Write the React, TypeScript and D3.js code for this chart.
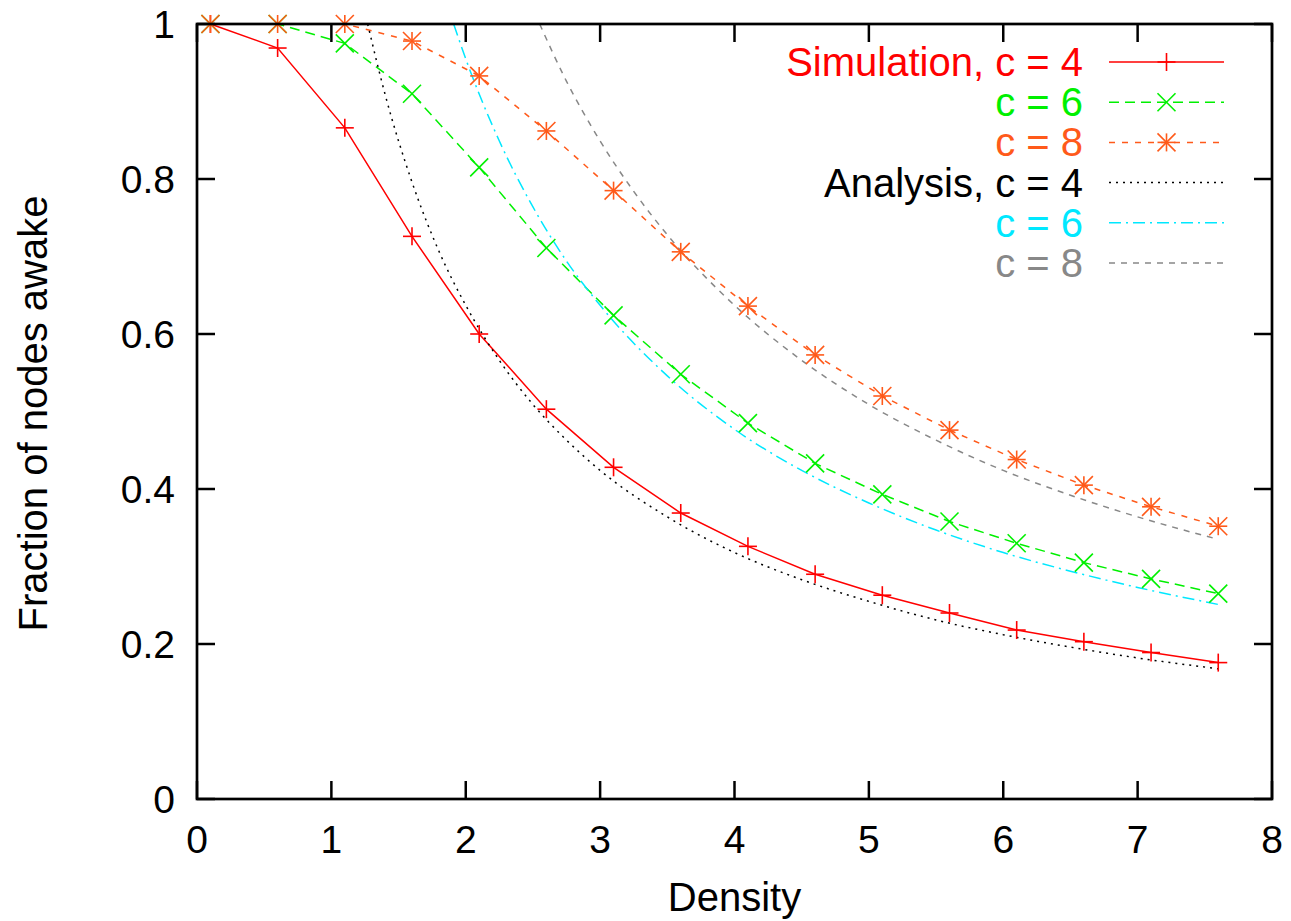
import React from "react";
import * as d3 from "d3";

const xTicks = [0, 1, 2, 3, 4, 5, 6, 7, 8];
const yTicks = [0, 0.2, 0.4, 0.6, 0.8, 1];
const yTickLabels = ["0", "0.2", "0.4", "0.6", "0.8", "1"];

const simDensity = [0.1, 0.6, 1.1, 1.6, 2.1, 2.6, 3.1, 3.6, 4.1, 4.6, 5.1, 5.6, 6.1, 6.6, 7.1, 7.6];
const simC4 = [1.0, 0.969, 0.866, 0.726, 0.6, 0.503, 0.428, 0.369, 0.326, 0.29, 0.263, 0.24, 0.218, 0.203, 0.189, 0.176];
const simC6 = [1.0, 1.0, 0.975, 0.91, 0.815, 0.711, 0.624, 0.548, 0.485, 0.433, 0.393, 0.358, 0.33, 0.305, 0.284, 0.265];
const simC8 = [1.0, 1.0, 1.0, 0.978, 0.933, 0.862, 0.785, 0.706, 0.636, 0.573, 0.52, 0.476, 0.438, 0.405, 0.377, 0.352];

const anaC4x = [1.27, 1.4, 1.6, 1.8, 2.0, 2.25, 2.5, 2.75, 3.0, 3.5, 4.0, 4.5, 5.0, 5.5, 6.0, 6.5, 7.0, 7.6];
const anaC4y = [1.0, 0.909, 0.796, 0.707, 0.637, 0.566, 0.509, 0.463, 0.424, 0.364, 0.318, 0.283, 0.255, 0.231, 0.212, 0.196, 0.182, 0.168];
const anaC6x = [1.91, 2.0, 2.25, 2.5, 2.75, 3.0, 3.5, 4.0, 4.5, 5.0, 5.5, 6.0, 6.5, 7.0, 7.6];
const anaC6y = [1.0, 0.955, 0.849, 0.764, 0.694, 0.637, 0.546, 0.477, 0.424, 0.382, 0.347, 0.318, 0.294, 0.273, 0.251];
const anaC8x = [2.55, 2.75, 3.0, 3.25, 3.5, 4.0, 4.5, 5.0, 5.5, 6.0, 6.5, 7.0, 7.6];
const anaC8y = [1.0, 0.926, 0.849, 0.784, 0.728, 0.637, 0.566, 0.509, 0.463, 0.424, 0.392, 0.364, 0.335];

type Marker = "plus" | "cross" | "star" | null;
interface Series {
  label: string;
  color: string;
  dash: string;
  marker: Marker;
  xs: number[];
  ys: number[];
  smooth: boolean;
}

const series: Series[] = [
  { label: "Simulation, c = 4", color: "#ff0000", dash: "", marker: "plus", xs: simDensity, ys: simC4, smooth: false },
  { label: "c = 6", color: "#00f000", dash: "10,6", marker: "cross", xs: simDensity, ys: simC6, smooth: false },
  { label: "c = 8", color: "#ff5a1a", dash: "6,7", marker: "star", xs: simDensity, ys: simC8, smooth: false },
  { label: "Analysis, c = 4", color: "#000000", dash: "2,5", marker: null, xs: anaC4x, ys: anaC4y, smooth: true },
  { label: "c = 6", color: "#00e8ff", dash: "12,5,2,5", marker: null, xs: anaC6x, ys: anaC6y, smooth: true },
  { label: "c = 8", color: "#888888", dash: "6,6", marker: null, xs: anaC8x, ys: anaC8y, smooth: true },
];

const FONT = "'Liberation Sans', Arial, Helvetica, sans-serif";

function MarkerShape({ type, x, y, color }: { type: Marker; x: number; y: number; color: string }) {
  const s = 9;
  const d = 9;
  const parts: React.ReactNode[] = [];
  if (type === "plus" || type === "star") {
    parts.push(<line key="h" x1={x - s} y1={y} x2={x + s} y2={y} />);
    parts.push(<line key="v" x1={x} y1={y - s} x2={x} y2={y + s} />);
  }
  if (type === "cross" || type === "star") {
    parts.push(<line key="a" x1={x - d} y1={y - d} x2={x + d} y2={y + d} />);
    parts.push(<line key="b" x1={x - d} y1={y + d} x2={x + d} y2={y - d} />);
  }
  return (
    <g stroke={color} strokeWidth={1.6} fill="none">
      {parts}
    </g>
  );
}

export default function App() {
  const W = 1291;
  const H = 921;
  const x = d3.scaleLinear().domain([0, 8]).range([197, 1272]);
  const y = d3.scaleLinear().domain([0, 1]).range([799, 24]);
  const tickLen = 18;
  const FS = 39;
  const FS2 = 40;

  const legX = 1083;
  const legLine0 = 1109;
  const legLine1 = 1224;
  const legY0 = 62;
  const legDy = 40.2;

  return (
    <svg width={W} height={H} style={{ position: "absolute", left: 0, top: 0, background: "#fff" }} fontFamily={FONT}>
      <rect x={0} y={0} width={W} height={H} fill="#fff" />
      <defs>
        <clipPath id="plotClip">
          <rect x={x(0)} y={y(1) - 12} width={x(8) - x(0)} height={y(0) - y(1) + 12} />
        </clipPath>
      </defs>

      {/* ticks */}
      <g stroke="#000" strokeWidth={2.5}>
        {xTicks.map((t) => (
          <g key={"xt" + t}>
            <line x1={x(t)} y1={y(0)} x2={x(t)} y2={y(0) - tickLen} />
            <line x1={x(t)} y1={y(1)} x2={x(t)} y2={y(1) + tickLen} />
          </g>
        ))}
        {yTicks.map((t) => (
          <g key={"yt" + t}>
            <line x1={x(0)} y1={y(t)} x2={x(0) + tickLen} y2={y(t)} />
            <line x1={x(8)} y1={y(t)} x2={x(8) - tickLen} y2={y(t)} />
          </g>
        ))}
      </g>

      {/* tick labels */}
      <g fontSize={FS} fill="#000">
        {xTicks.map((t) => (
          <text key={"xl" + t} x={x(t)} y={853} textAnchor="middle">
            {String(t)}
          </text>
        ))}
        {yTicks.map((t, i) => (
          <text key={"yl" + t} x={175} y={y(t) + 14} textAnchor="end">
            {yTickLabels[i]}
          </text>
        ))}
      </g>

      {/* axis titles */}
      <text x={x(4)} y={911} textAnchor="middle" fontSize={FS2} fill="#000">
        Density
      </text>
      <text
        transform={`translate(47, ${(y(0) + y(1)) / 2 + 2}) rotate(-90)`}
        textAnchor="middle"
        fontSize={FS2}
        fill="#000"
      >
        Fraction of nodes awake
      </text>

      {/* series */}
      <g clipPath="url(#plotClip)">
        {series.map((s, i) => {
          const pts: [number, number][] = s.xs.map((v, j) => [v, s.ys[j]]);
          const gen = d3
            .line<[number, number]>()
            .x((p) => x(p[0]))
            .y((p) => y(p[1]))
            .curve(s.smooth ? d3.curveMonotoneX : d3.curveLinear);
          return (
            <path
              key={"s" + i}
              d={gen(pts) || ""}
              fill="none"
              stroke={s.color}
              strokeWidth={1.5}
              strokeDasharray={s.dash || undefined}
            />
          );
        })}
      </g>
      {series.map((s, i) =>
        s.marker
          ? s.xs.map((v, j) => <MarkerShape key={`m${i}-${j}`} type={s.marker} x={x(v)} y={y(s.ys[j])} color={s.color} />)
          : null
      )}

      {/* frame */}
      <rect x={x(0)} y={y(1)} width={x(8) - x(0)} height={y(0) - y(1)} fill="none" stroke="#000" strokeWidth={2.7} />

      {/* legend */}
      <g fontSize={FS2}>
        {series.map((s, i) => {
          const ly = legY0 + i * legDy;
          return (
            <g key={"lg" + i}>
              <text x={legX} y={ly + 14} textAnchor="end" fill={s.color}>
                {s.label}
              </text>
              <line
                x1={legLine0}
                y1={ly}
                x2={legLine1}
                y2={ly}
                stroke={s.color}
                strokeWidth={1.5}
                strokeDasharray={s.dash || undefined}
              />
              {s.marker ? <MarkerShape type={s.marker} x={(legLine0 + legLine1) / 2} y={ly} color={s.color} /> : null}
            </g>
          );
        })}
      </g>
    </svg>
  );
}
